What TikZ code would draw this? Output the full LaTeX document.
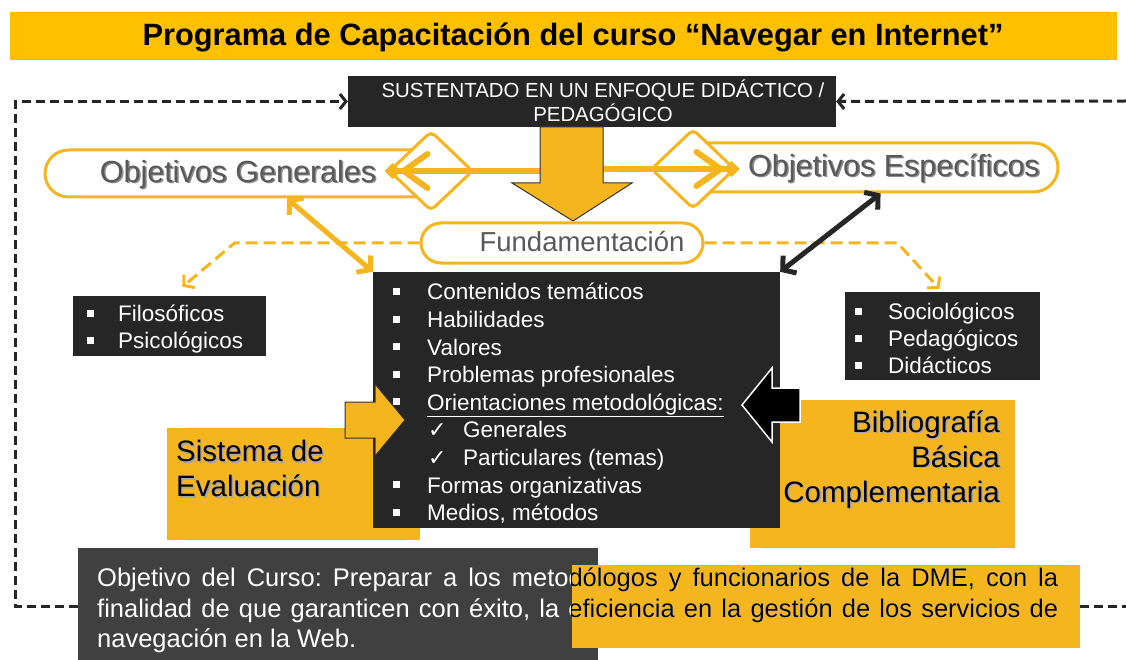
\documentclass[tikz,border=0pt]{standalone}
\usepackage{fontspec}
\setmainfont{Liberation Sans}
\newfontfamily\symfont{DejaVu Sans}
\usetikzlibrary{arrows.meta,shapes.geometric,shapes.misc}
\pgfdeclarelayer{back}
\pgfsetlayers{back,main}
\frenchspacing

\definecolor{titlegold}{HTML}{FFC000}
\definecolor{gold}{HTML}{F5B51E}
\definecolor{boxdark}{HTML}{262626}
\definecolor{objdark}{HTML}{404040}
\definecolor{textgray}{HTML}{595959}

\newcommand\fs[2]{\fontsize{#1}{#2}\selectfont}
\newcommand\blt[1][34pt]{\makebox[#1][l]{\raisebox{5pt}{\rule{7pt}{7pt}}}}
\newcommand\chk{\hspace*{35pt}\makebox[35pt][l]{\symfont\fs{22}{22}✓}}
\newcommand\shad[2]{\leavevmode\rlap{\hspace{1.5pt}\raisebox{-1.5pt}{\textcolor{#1}{#2}}}#2}
\newcommand\objcurso{Objetivo del Curso: Preparar a los metodólogos y funcionarios de la DME, con la\linebreak finalidad de que garanticen con éxito, la eficiencia en la gestión de los servicios de\linebreak navegación en la Web.}

\tikzset{
  band/.style={fill=titlegold, inner sep=0pt},
  darkbox/.style={fill=boxdark, inner sep=0pt},
  goldbox/.style={fill=gold, inner sep=0pt},
  pill/.style={rounded rectangle, draw=gold, line width=3pt, fill=white, inner sep=0pt},
  rhomb/.style={diamond, draw=gold, line width=3pt, fill=white, inner sep=0pt,
    rounded corners=5pt, minimum width=84pt, minimum height=80pt},
  bigtext/.style={font=\fs{30.5}{36}, text=textgray, inner sep=0pt},
  boxtext/.style={font=\fs{29.5}{35}, inner sep=0pt},
  listtext/.style={text=white, align=left, inner sep=0pt, anchor=west, font=\fs{22.5}{27}},
  objtext/.style={anchor=west, inner sep=0pt, text width=961pt, align=justify, font=\fs{25.5}{30.5}},
  blockarrow/.style={fill=gold, draw=black!80, line width=1pt},
  goldarrow/.style={draw=gold, line width=6pt,
    -{Straight Barb[length=24pt,width=34pt,round] Diamond[length=16pt,width=16pt]}},
  goldlink/.style={draw=gold, line width=5pt, >={Straight Barb[length=9pt,width=22pt]}, <->},
  darklink/.style={draw=boxdark, line width=5pt, >={Straight Barb[length=9pt,width=22pt]}, <->},
  golddash/.style={draw=gold, line width=3pt, dash pattern=on 12pt off 6pt,
    -{Straight Barb[length=7pt,width=17pt]}},
  loopdash/.style={draw=black!85, line width=3pt, dash pattern=on 9pt off 5pt,
    >={Straight Barb[length=6pt,width=15pt]}}
}

\begin{document}
\begin{tikzpicture}[x=1pt,y=-1pt]
\useasboundingbox (0,0) rectangle (1126,660);

% title
\node[band, minimum width=1107pt, minimum height=48pt] (title) at (563.5,36) {};
\node[font=\bfseries\fs{30.8}{36}, inner sep=0pt] (titletext) at (573,37)
  {Programa de Capacitación del curso “Navegar en Internet”};

% top box
\node[darkbox, minimum width=488pt, minimum height=51pt] (sust) at (592,101.5) {};
\node[text=white, align=center, font=\fs{20.4}{24.5}, inner sep=0pt] (susttext) at (603,101)
  {SUSTENTADO EN UN ENFOQUE DIDÁCTICO /\\PEDAGÓGICO};

% objetivos
\node[pill, minimum width=410pt, minimum height=47pt] (og) at (250,173.5) {};
\node[pill, minimum width=378pt, minimum height=49pt] (oe) at (869,167.5) {};
\node[bigtext] (ogtext) at (238,175) {\shad{black!45}{Objetivos Generales}};
\node[bigtext] (oetext) at (894,169) {\shad{black!45}{Objetivos Específicos}};
\node[rhomb] (dl) at (431,171) {};
\node[rhomb] (dr) at (693,169) {};

\coordinate (shaftl) at (541,171);
\coordinate (shaftr) at (602,169);
\draw[goldarrow] (shaftl) -- ([xshift=-3pt]dl.west);
\draw[goldarrow] (shaftr) -- ([xshift=3pt]dr.east);
\draw[blockarrow] (540,127) -- (603,127) -- (603,183) -- (632,183) -- (573,221)
  -- (512,183) -- (540,183) -- cycle;

% fundamentacion
\node[pill, minimum width=282pt, minimum height=40pt] (fund) at (562,243) {};
\node[font=\fs{27.5}{32}, text=textgray, inner sep=0pt] (fundtext) at (582,242) {Fundamentación};

% side lists
\node[darkbox, minimum width=193pt, minimum height=60pt] (filo) at (169.5,326) {};
\node[listtext] (filotext) at (87,329.5) {\blt[31pt]Filosóficos\\\blt[31pt]Psicológicos};
\node[darkbox, minimum width=195pt, minimum height=88pt] (socio) at (942.5,336) {};
\node[listtext] (sociotext) at (855,338.5)
  {\blt[33pt]Sociológicos\\\blt[33pt]Pedagógicos\\\blt[33pt]Didácticos};

\draw[golddash] (fund.west) -- ++(-185,0) -- ([xshift=13pt,yshift=9pt]filo.north);
\draw[golddash] (fund.east) -- ++(193,0) -- ([xshift=-3pt,yshift=3pt]socio.north);

% centre
\node[goldbox, minimum width=253pt, minimum height=112pt] (sist) at (293.5,484) {};
\node[goldbox, minimum width=265pt, minimum height=148pt] (biblio) at (882.5,474) {};
\node[darkbox, minimum width=407pt, minimum height=256pt] (temas) at (576.5,400) {};
\node[listtext, font=\fs{22.5}{27.6}] (temastext) at (393,403.5)
  {\blt Contenidos temáticos\\
   \blt Habilidades\\
   \blt Valores\\
   \blt Problemas profesionales\\
   \blt \underline{Orientaciones metodológicas:}\\
   \chk Generales\\
   \chk Particulares (temas)\\
   \blt Formas organizativas\\
   \blt Medios, métodos};
\node[boxtext, align=left, anchor=west] (sisttext) at (176,469.5)
  {\shad{black!35}{Sistema de}\\\shad{black!35}{Evaluación}};
\node[boxtext, align=right, anchor=east] (bibliotext) at (1000,460)
  {\shad{black!35}{Bibliografía}\\\shad{black!35}{Básica}\\\shad{black!35}{Complementaria}};

\draw[goldlink] (og.-34) -- (temas.north west);
\draw[darklink] (oe.-66) -- (temas.north east);

\draw[blockarrow] (345,402) -- (375,402) -- (375,384) -- (405,420) -- (375,456)
  -- (375,438) -- (345,438) -- cycle;
\draw[fill=black, draw=white, line width=1.5pt] (800,388) -- (772,388) -- (772,368)
  -- (742,405) -- (772,442) -- (772,422) -- (800,422) -- cycle;

% objetivo del curso
\node[fill=objdark, minimum width=520pt, minimum height=114pt, inner sep=0pt] (objd) at (338,605) {};
\node[goldbox, minimum width=508pt, minimum height=83pt] (objy) at (826,606.5) {};
\node[objtext, text=white] (objtextw) at (97,610.5) {\objcurso};
\begin{scope}
  \clip (objy.north west) rectangle (objy.south east);
  \node[objtext, text=black] (objtextb) at (97,610.5) {\objcurso};
\end{scope}

% loop
\coordinate (loopl) at (15,606);
\coordinate (loopr) at (1126,101);
\begin{pgfonlayer}{back}
  \draw[loopdash, ->] (objd.west |- loopl) -- (loopl) |- (sust.west);
  \draw[loopdash] (objy.east |- loopl) -- (loopr |- loopl);
\end{pgfonlayer}
\draw[loopdash, ->] (loopr) -- (sust.east);
\end{tikzpicture}
\end{document}
